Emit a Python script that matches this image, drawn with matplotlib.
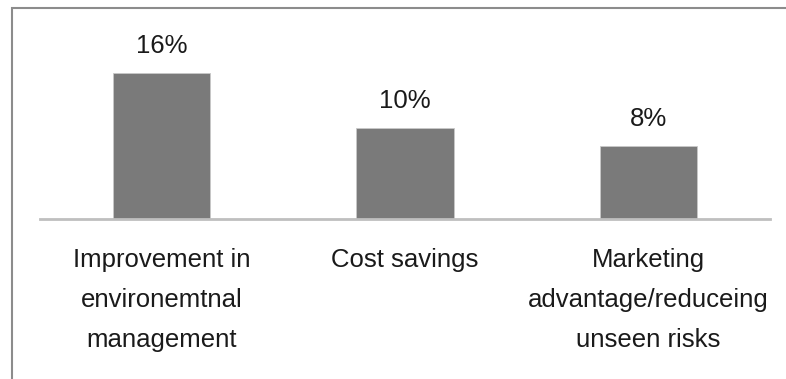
import matplotlib
matplotlib.use("Agg")
import matplotlib.pyplot as plt
from matplotlib.patches import Rectangle

categories = ["Improvement in\nenvironemtnal\nmanagement", "Cost savings",
              "Marketing\nadvantage/reduceing\nunseen risks"]
values = [16, 10, 8]
value_labels = ["16%", "10%", "8%"]

W, H = 786, 379
fig = plt.figure(figsize=(W / 100, H / 100), dpi=100)
plt.rcParams['font.family'] = ['Liberation Sans', 'DejaVu Sans']

# outer frame (partially visible)
fig.patches.append(Rectangle((12 / W, -0.1), 1.2, (H - 8) / H + 0.1,
                             transform=fig.transFigure, fill=False,
                             edgecolor='#8c8c8c', linewidth=1.5))

ax_left, ax_right = 40, 770
ax_bottom, ax_top = 219, 20
ax = fig.add_axes([ax_left / W, (H - ax_bottom) / H,
                   (ax_right - ax_left) / W, (ax_bottom - ax_top) / H])
x = list(range(len(categories)))
ax.bar(x, values, width=0.4, color='#7a7a7a', edgecolor='#c8c8c8', linewidth=0.6)
ax.set_xlim(-0.5, 2.5)
ax.set_ylim(0, (ax_bottom - ax_top) / 9.125)
for s in ['top', 'right', 'left']:
    ax.spines[s].set_visible(False)
ax.spines['bottom'].set_color('#bfbfbf')
ax.spines['bottom'].set_linewidth(2)
ax.set_yticks([])
ax.set_xticks(x)
ax.set_xticklabels(categories, fontsize=18.5, color='#1a1a1a', linespacing=1.85, va='top')
ax.tick_params(axis='x', length=0, pad=21)
for xi, v, lab in zip(x, values, value_labels):
    ax.annotate(lab, (xi, v), xytext=(0, 27), textcoords='offset pixels',
                ha='center', va='center', fontsize=18.5, color='#1a1a1a')

fig.savefig("out.png", dpi=100)
